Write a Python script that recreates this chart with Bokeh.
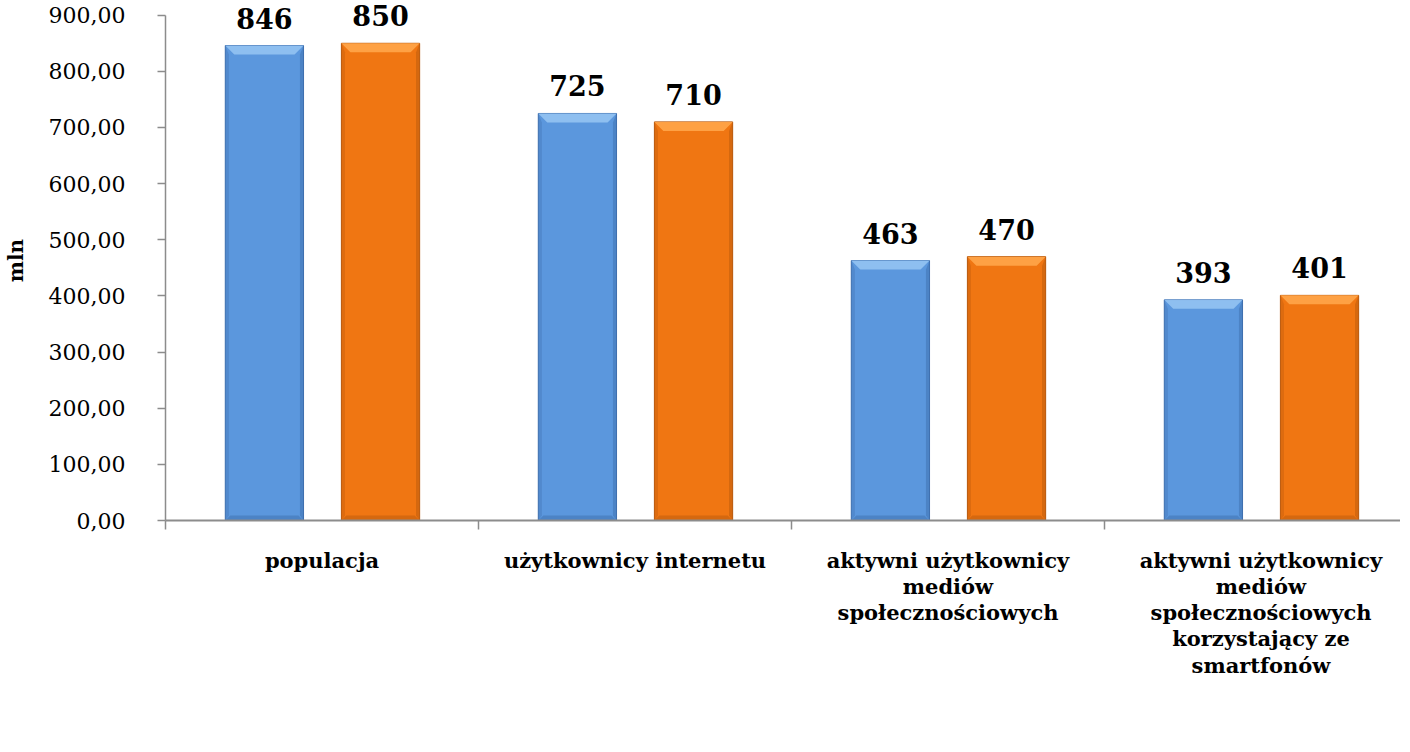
import numpy as np
from bokeh.plotting import figure
from bokeh.models import (Range1d, FixedTicker, ColumnDataSource, LabelSet, Legend, LegendItem)
from bokeh.core.properties import value
from bokeh.embed import file_html
from bokeh.resources import INLINE

categories = ["populacja", "użytkownicy internetu",
              "aktywni użytkownicy\nmediów\nspołecznościowych",
              "aktywni użytkownicy\nmediów\nspołecznościowych\nkorzystający ze\nsmartfonów"]
series_names = ["2019", "2020"]
values_2019 = [846, 725, 463, 393]
values_2020 = [850, 710, 470, 401]
y_ticks = [0, 100, 200, 300, 400, 500, 600, 700, 800, 900]

FONT = "DejaVu Serif"
FRAME_H = 520
Y_END = 926.2
PX_PER_UNIT = FRAME_H / Y_END
p = figure(frame_width=1235, frame_height=FRAME_H, output_backend="svg", toolbar_location=None,
           x_range=Range1d(0, 1235 / 313), y_range=Range1d(0, Y_END),
           min_border_left=159, min_border_right=0, min_border_top=0, min_border_bottom=0)
p.outline_line_color = None
p.grid.grid_line_color = None
p.background_fill_color = "white"
p.border_fill_color = "white"

n = len(categories)
idx = np.arange(n)
bw = 0.25
offs = [-0.184, 0.187]
main_cols = ["#5B97DD", "#F07612"]
light_cols = ["#93C3F2", "#FFA64A"]
dark_cols = ["#3E6FAE", "#B9590C"]
px_x = 1 / 313.0
px_y = 1 / PX_PER_UNIT

renderers = []
for s, vals in enumerate([values_2019, values_2020]):
    vals = np.array(vals, dtype=float)
    xc = idx + 0.5 + offs[s]
    src = ColumnDataSource(dict(x=xc, top=vals))
    r = p.vbar(x="x", top="top", width=bw, bottom=0, source=src,
               fill_color=main_cols[s], line_color=dark_cols[s], line_width=1)
    renderers.append(r)
    dx, dy = 9 * px_x, 9 * px_y
    xs_t = [[x - bw / 2, x + bw / 2, x + bw / 2 - dx, x - bw / 2 + dx] for x in xc]
    ys_t = [[v, v, v - dy, v - dy] for v in vals]
    p.patches(xs_t, ys_t, fill_color=light_cols[s], line_color=None, fill_alpha=0.9)
    dxb, dyb = 5 * px_x, 5 * px_y
    xs_b = [[x - bw / 2, x + bw / 2, x + bw / 2 - dxb, x - bw / 2 + dxb] for x in xc]
    ys_b = [[0, 0, dyb, dyb] for v in vals]
    p.patches(xs_b, ys_b, fill_color=dark_cols[s], line_color=None, fill_alpha=0.5)
    xs_r = [[x + bw / 2, x + bw / 2, x + bw / 2 - dx * 0.4, x + bw / 2 - dx * 0.4] for x in xc]
    ys_r = [[0, v, v - dy, dyb] for v in vals]
    p.patches(xs_r, ys_r, fill_color=dark_cols[s], line_color=None, fill_alpha=0.5)
    xs_l = [[x - bw / 2, x - bw / 2, x - bw / 2 + dx * 0.4, x - bw / 2 + dx * 0.4] for x in xc]
    p.patches(xs_l, ys_r, fill_color=dark_cols[s], line_color=None, fill_alpha=0.35)
    lsrc = ColumnDataSource(dict(x=xc, y=vals, t=[str(int(v)) for v in vals]))
    p.add_layout(LabelSet(x="x", y="y", text="t", source=lsrc, y_offset=17,
                          text_align="center", text_baseline="alphabetic",
                          text_font=value(FONT), text_font_style="bold",
                          text_font_size=value("27px"), text_color="black"))

yax = p.yaxis[0]
yax.ticker = FixedTicker(ticks=y_ticks)
yax.bounds = (0, 900)
yax.major_label_overrides = {t: f"{t},00" for t in y_ticks}
yax.major_label_text_font = FONT
yax.major_label_text_font_size = "22px"
yax.major_label_text_color = "black"
yax.major_label_standoff = 32
yax.major_tick_out = 8
yax.major_tick_in = 0
yax.minor_tick_out = 0
yax.minor_tick_in = 0
yax.axis_line_color = "#8C8C8C"
yax.axis_line_width = 1.5
yax.major_tick_line_color = "#8C8C8C"
yax.major_tick_line_width = 1.5
yax.axis_label = "mln"
yax.axis_label_text_font = FONT
yax.axis_label_text_font_style = "bold"
yax.axis_label_text_font_size = "20px"
yax.axis_label_text_color = "black"
yax.axis_label_standoff = 18

xax = p.xaxis[0]
centers = [float(i) + 0.5 for i in range(n)]
xax.ticker = FixedTicker(ticks=centers, minor_ticks=[float(i) for i in range(n + 1)])
xax.major_label_overrides = {c: lab for c, lab in zip(centers, categories)}
xax.major_label_text_font = FONT
xax.major_label_text_font_style = "bold"
xax.major_label_text_font_size = "21px"
xax.major_label_text_color = "black"
xax.major_label_text_line_height = 1.05
xax.major_label_standoff = 18
xax.major_tick_out = 0
xax.major_tick_in = 0
xax.minor_tick_out = 9
xax.minor_tick_in = 0
xax.minor_tick_line_color = "#8C8C8C"
xax.minor_tick_line_width = 1.5
xax.axis_line_color = "#8C8C8C"
xax.axis_line_width = 2

legend = Legend(items=[LegendItem(label=series_names[i], renderers=[renderers[i]]) for i in range(2)],
                orientation="horizontal", location="center",
                label_text_font=FONT, label_text_font_style="bold", label_text_font_size="24px",
                label_text_color="black",
                glyph_width=16, glyph_height=16, label_standoff=6, spacing=26,
                padding=0, margin=2, border_line_color=None, background_fill_alpha=0)
p.add_layout(legend, "below")

open("out.html", "w").write(file_html(p, INLINE))
